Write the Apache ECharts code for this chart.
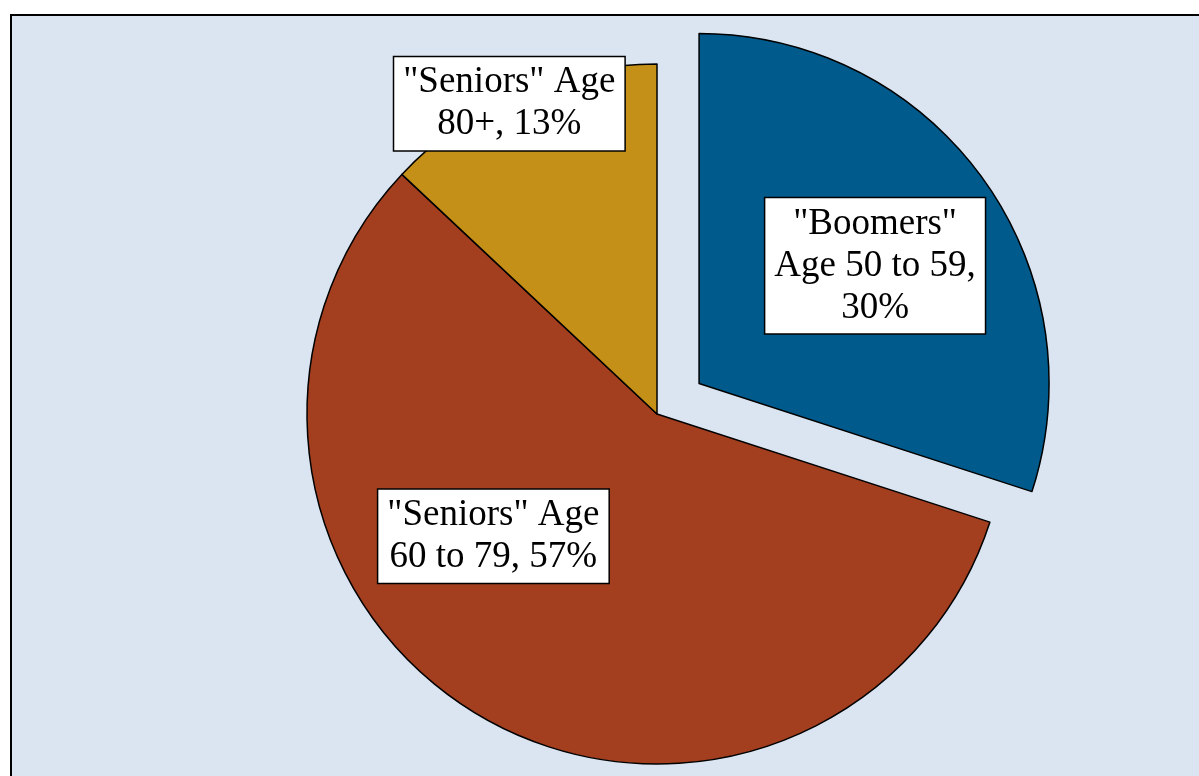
<!DOCTYPE html>
<html>
<head>
<meta charset="utf-8">
<script src="https://cdn.jsdelivr.net/npm/echarts@6/dist/echarts.min.js"></script>
<style>
html,body{margin:0;padding:0;background:#fff;}
#chart{width:1199px;height:776px;}
</style>
</head>
<body>
<div id="chart"></div>
<script>
var categories = ['"Boomers" Age 50 to 59', '"Seniors" Age 60 to 79', '"Seniors" Age 80+'];
var values = [30, 57, 13];
var labelLines = [
  ['"Boomers"', 'Age 50 to 59,', '30%'],
  ['"Seniors" Age', '60 to 79, 57%'],
  ['"Seniors" Age', '80+, 13%']
];
var colors = ['#005A8C', '#A33F1F', '#C49018'];
var labelShift = [[32, -13], [-73, -31], [-77, -147]];

var chart = echarts.init(document.getElementById('chart'), null, {renderer: 'canvas'});
chart.setOption({
  backgroundColor: '#ffffff',
  animation: false,
  graphic: [{
    type: 'rect', z: -10,
    shape: {x: 11, y: 15, width: 1200, height: 780},
    style: {fill: '#DBE5F1', stroke: '#000', lineWidth: 2}
  }],
  series: [{
    type: 'pie',
    center: [657, 414],
    radius: [0, 350],
    startAngle: 90,
    clockwise: true,
    selectedMode: 'single',
    selectedOffset: 52,
    emphasis: {disabled: true},
    itemStyle: {borderColor: '#000', borderWidth: 1.5},
    label: {
      show: true,
      position: 'inside',
      formatter: function (p) { return labelLines[p.dataIndex].join('\n'); },
      fontFamily: 'Liberation Serif',
      fontSize: 37,
      lineHeight: 42,
      color: '#000',
      backgroundColor: '#fff',
      borderColor: '#000',
      borderWidth: 1.5,
      padding: [6, 9, 3, 9],
      align: 'center'
    },
    labelLine: {show: false},
    labelLayout: function (p) {
      return {dx: labelShift[p.dataIndex][0], dy: labelShift[p.dataIndex][1]};
    },
    data: categories.map(function (c, i) {
      return {name: c, value: values[i], selected: i === 0, itemStyle: {color: colors[i]}};
    })
  }]
});
</script>
</body>
</html>
